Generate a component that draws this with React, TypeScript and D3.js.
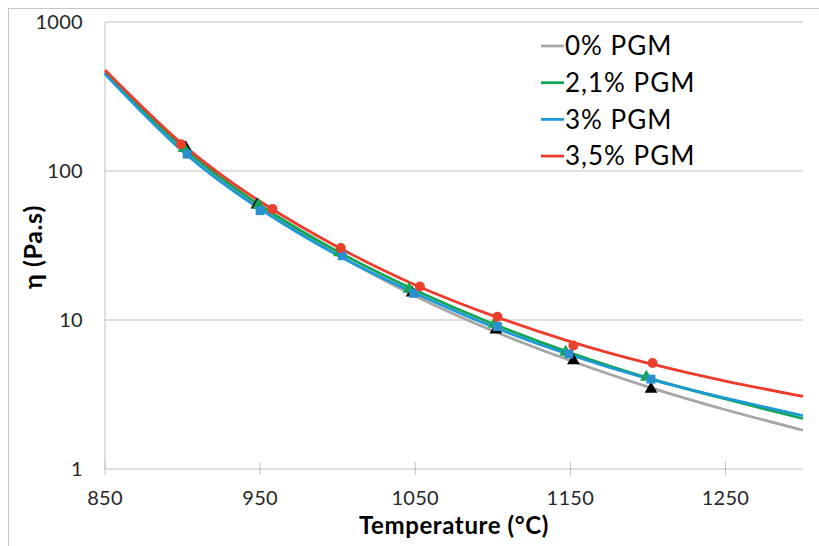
import React from 'react';
import * as d3 from 'd3';

// fitted curves, read every 50 °C
const fitTemps = [850, 900, 950, 1000, 1050, 1100, 1150, 1200, 1250, 1300];
const fit0 = [455, 143, 56.9, 27.4, 14.5, 8.47, 5.35, 3.56, 2.5, 1.82];
const fit21 = [461, 145, 58.9, 28.8, 15.85, 9.44, 6.03, 4.09, 2.95, 2.18];
const fit3 = [448, 136, 55.6, 27.2, 15.1, 9.0, 5.82, 4.04, 2.99, 2.28];
const fit35 = [476, 151, 62.4, 30.9, 17.2, 10.7, 7.16, 5.13, 3.89, 3.07];

// measured points
const tri0T = [902, 948, 1048, 1102, 1152, 1202];
const tri0V = [143.6, 59.3, 15.2, 8.6, 5.35, 3.44];
const tri21T = [901, 949, 1001, 1046, 1101, 1147, 1199];
const tri21V = [142, 59, 28.3, 16.1, 9.4, 6.1, 4.14];
const sq3T = [903, 950, 1003, 1049, 1103, 1149, 1202];
const sq3V = [129.7, 54.2, 27, 15.1, 9.04, 5.93, 4.01];
const dot35T = [899, 958, 1002, 1053, 1103, 1152, 1203];
const dot35V = [151, 55.5, 30.4, 16.8, 10.5, 6.75, 5.14];

const xTicks = [850, 950, 1050, 1150, 1250];
const yTicks = [1, 10, 100, 1000];
const legendLabels = ['0% PGM', '2,1% PGM', '3% PGM', '3,5% PGM'];
const legendColors = ['#a6a6a6', '#13a553', '#1b9ad6', '#ef3b2c'];

const W = 819;
const H = 546;
const left = 105;
const right = 803;
const top = 22;
const bottom = 469;
const font = 'Lato, "Open Sans", sans-serif';

export default function App() {
  const x = d3.scaleLinear().domain([850, 1300]).range([left, right]);
  const y = d3.scaleLog().domain([1, 1000]).range([bottom, top]);

  const line = d3
    .line<[number, number]>()
    .x((d) => x(d[0]))
    .y((d) => y(d[1]))
    .curve(d3.curveNatural);

  const fits = [fit0, fit21, fit3, fit35];
  const tri = d3.symbol().type(d3.symbolTriangle).size(70)();
  const sq = d3.symbol().type(d3.symbolSquare).size(80)();

  return (
    <svg width={W} height={H} style={{ position: 'absolute', left: 0, top: 0 }}>
      <rect x={0} y={0} width={W} height={H} fill="#fff" />
      <rect x={8.5} y={8.5} width={830} height={560} fill="none" stroke="#c8c8c8" />

      {/* grid */}
      {yTicks.slice(1).map((t) => (
        <line key={t} x1={left} x2={right} y1={y(t)} y2={y(t)} stroke="#bfbfbf" strokeWidth={1} />
      ))}
      <line x1={left} x2={left} y1={top} y2={bottom} stroke="#bfbfbf" />
      <line x1={left} x2={right} y1={bottom} y2={bottom} stroke="#bfbfbf" />
      {xTicks.map((t) => (
        <line key={t} x1={x(t)} x2={x(t)} y1={bottom - 7} y2={bottom + 6} stroke="#bfbfbf" />
      ))}

      {/* tick labels */}
      {yTicks.map((t) => (
        <text key={t} x={83} y={y(t)} dy="0.35em" textAnchor="end" fontFamily={font} fontSize={20} letterSpacing={0.3} fill="#262626">
          {t}
        </text>
      ))}
      {xTicks.map((t) => (
        <text key={t} x={x(t)} y={505} textAnchor="middle" fontFamily={font} fontSize={20} letterSpacing={0.3} fill="#262626">
          {t}
        </text>
      ))}

      <text x={454} y={534} textAnchor="middle" fontFamily={font} fontSize={24} fontWeight="bold" letterSpacing={0.6} fill="#000">
        Temperature (°C)
      </text>
      <text
        transform="translate(42,247) rotate(-90)"
        textAnchor="middle"
        fontFamily={font}
        fontSize={25}
        fontWeight="bold"
        letterSpacing={0.6}
        fill="#000"
      >
        η (Pa.s)
      </text>

      {/* curves */}
      {fits.map((f, i) => (
        <path
          key={i}
          d={line(fitTemps.map((t, j) => [t, f[j]]))!}
          fill="none"
          stroke={legendColors[i]}
          strokeWidth={2.75}
        />
      ))}

      {/* markers */}
      {tri0T.map((t, i) => (
        <path key={'a' + i} d={tri!} transform={`translate(${x(t)},${y(tri0V[i])})`} fill="#000" />
      ))}
      {tri21T.map((t, i) => (
        <path key={'b' + i} d={tri!} transform={`translate(${x(t)},${y(tri21V[i])})`} fill="#13a553" />
      ))}
      {sq3T.map((t, i) => (
        <path key={'c' + i} d={sq!} transform={`translate(${x(t)},${y(sq3V[i])})`} fill="#2a8fcd" />
      ))}
      {dot35T.map((t, i) => (
        <circle key={'d' + i} cx={x(t)} cy={y(dot35V[i])} r={5} fill="#e8412c" />
      ))}

      {/* legend */}
      {legendLabels.map((l, i) => (
        <g key={l} transform={`translate(541,${46 + i * 36.7})`}>
          <line x1={0} x2={23} y1={0} y2={0} stroke={legendColors[i]} strokeWidth={2.75} />
          <text x={24} y={0} dy="0.35em" fontFamily={font} fontSize={26} letterSpacing={1} fill="#000">
            {l}
          </text>
        </g>
      ))}
    </svg>
  );
}
